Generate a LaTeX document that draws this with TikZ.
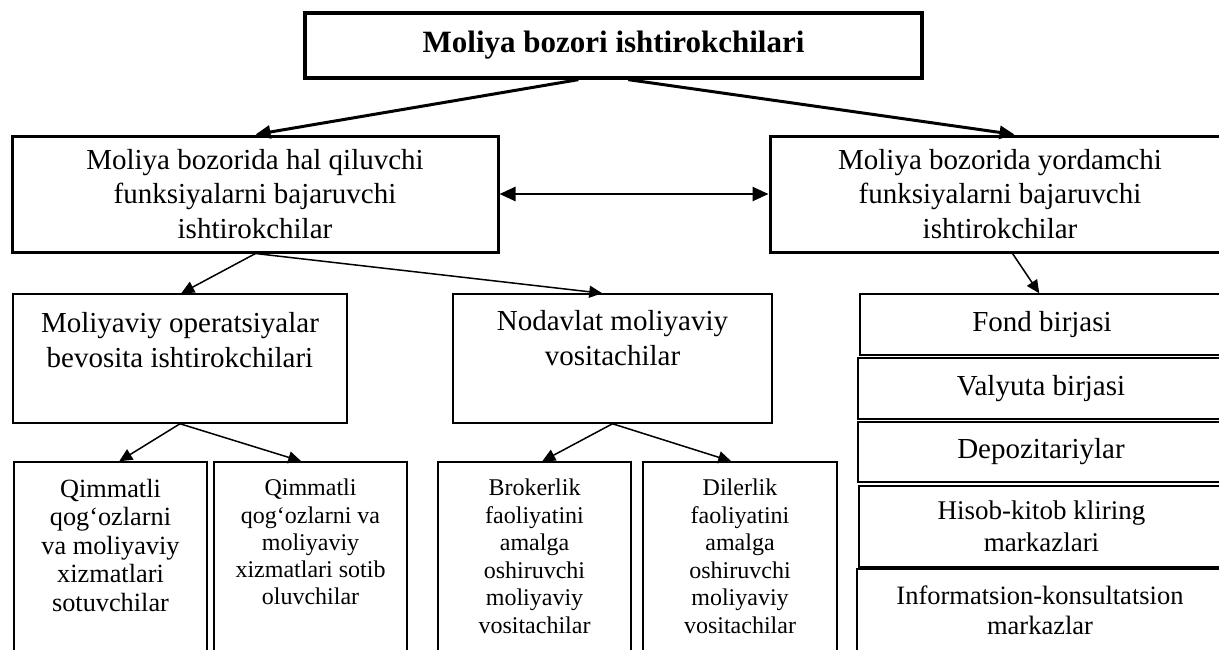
\documentclass[tikz,border=0pt]{standalone}
\usepackage{fontspec}
\setmainfont{Liberation Serif}
\usetikzlibrary{arrows.meta}

\tikzset{
  box/.style={draw, rectangle, inner sep=0pt, line width=1.5pt},
  heavybox/.style={box, line width=3pt},
  lbl/.style={inner sep=0pt, align=center},
  arr/.style={-{Triangle[length=13pt,width=12pt]}, line width=1.5pt},
  bigarr/.style={-{Triangle[length=15pt,width=13pt]}, line width=3pt},
  dblarr/.style={{Triangle[length=16pt,width=14pt]}-{Triangle[length=16pt,width=14pt]}, line width=2.5pt},
  fmain/.style={font={\fontsize{29}{34.5}\selectfont}},
  fsmall/.style={font={\fontsize{24}{27.2}\selectfont}},
}

\begin{document}
\begin{tikzpicture}[x=1pt, y=-1pt]
  \clip (0,0) rectangle (1219,649);
  \fill[white] (0,0) rectangle (1219,649);

  % top level
  \node[heavybox, line width=3.3pt, minimum width=617pt, minimum height=65pt,
        font={\fontsize{31}{36}\selectfont\bfseries}] (T) at (613.5,45.5)
        {Moliya bozori ishtirokchilari};

  % second level
  \node[heavybox, fmain, align=center, minimum width=486pt, minimum height=116pt] (L) at (255,194)
        {Moliya bozorida hal qiluvchi\\funksiyalarni bajaruvchi\\ishtirokchilar};
  \node[heavybox, fmain, align=center, minimum width=460pt, minimum height=116pt] (R) at (1000,194)
        {Moliya bozorida yordamchi\\funksiyalarni bajaruvchi\\ishtirokchilar};

  % third level, left side
  \node[box, minimum width=334pt, minimum height=129pt] (A) at (180,358.5) {};
  \node[lbl, fmain] (At) at (180,340) {Moliyaviy operatsiyalar\\bevosita ishtirokchilari};
  \node[box, minimum width=319pt, minimum height=129pt] (B) at (612.5,358.5) {};
  \node[lbl, fmain] (Bt) at (612.5,338) {Nodavlat moliyaviy\\vositachilar};

  % right column of infrastructure institutions
  \node[box, fmain, minimum width=364pt, minimum height=61pt] (S1) at (1042,324.5) {Fond birjasi};
  \node[box, fmain, minimum width=366pt, minimum height=61pt] (S2) at (1041,388.5) {Valyuta birjasi};
  \node[box, fmain, minimum width=366pt, minimum height=60pt] (S3) at (1041,452) {Depozitariylar};
  \node[box, align=center, font={\fontsize{27}{32}\selectfont}, minimum width=365pt, minimum height=81pt] (S4) at (1041.5,526.5)
        {Hisob-kitob kliring\\markazlari};
  \node[box, align=center, font={\fontsize{26.5}{30}\selectfont}, minimum width=366pt, minimum height=82pt] (S5) at (1040,610)
        {Informatsion-konsultatsion\\markazlar};

  % fourth level
  \node[box, minimum width=193pt, minimum height=198pt] (D) at (110.5,561) {};
  \node[lbl, font={\fontsize{26.3}{28.5}\selectfont}] (Dt) at (110.5,545)
        {Qimmatli\\qog‘ozlarni\\va moliyaviy\\xizmatlari\\sotuvchilar};
  \node[box, minimum width=193pt, minimum height=198pt] (E) at (310.5,561) {};
  \node[lbl, fsmall] (Et) at (310.5,542)
        {Qimmatli\\qog‘ozlarni va\\moliyaviy\\xizmatlari sotib\\oluvchilar};
  \node[box, minimum width=193pt, minimum height=198pt] (F) at (534.5,561) {};
  \node[lbl, font={\fontsize{24}{27.5}\selectfont}] (Ft) at (534.5,556.5)
        {Brokerlik\\faoliyatini\\amalga\\oshiruvchi\\moliyaviy\\vositachilar};
  \node[box, minimum width=194pt, minimum height=198pt] (G) at (740,561) {};
  \node[lbl, font={\fontsize{24}{27.5}\selectfont}] (Gt) at (740,556.5)
        {Dilerlik\\faoliyatini\\amalga\\oshiruvchi\\moliyaviy\\vositachilar};

  % connectors
  \draw[bigarr] ([xshift=275pt]T.south west) -- ([xshift=245pt]L.north west);
  \draw[bigarr] ([xshift=325pt]T.south west) -- ([xshift=246pt]R.north west);
  \draw[dblarr] (L.east) -- (R.west);

  \draw[arr] ([xshift=245pt]L.south west) -- ([xshift=169pt]A.north west);
  \draw[arr] ([xshift=245pt]L.south west) -- ([xshift=150pt]B.north west);
  \draw[arr] ([xshift=244pt]R.south west) -- ([xshift=180pt]S1.north west);

  \draw[arr] (A.south) -- ([xshift=106pt]D.north west);
  \draw[arr] (A.south) -- ([xshift=88pt]E.north west);
  \draw[arr] (B.south) -- ([xshift=105pt]F.north west);
  \draw[arr] (B.south) -- ([xshift=89pt]G.north west);
\end{tikzpicture}
\end{document}
